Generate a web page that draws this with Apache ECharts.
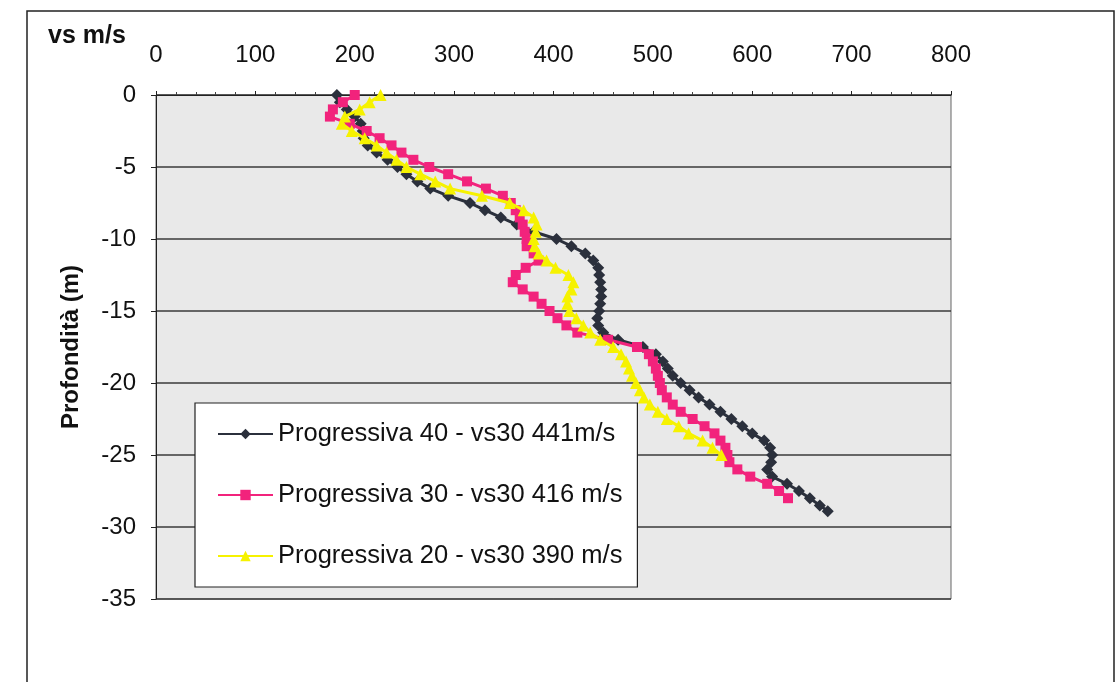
<!DOCTYPE html>
<html>
<head>
<meta charset="utf-8">
<script src="https://cdn.jsdelivr.net/npm/echarts@6/dist/echarts.min.js"></script>
<style>
html,body{margin:0;padding:0;background:#fff;}
#chart{width:1120px;height:682px;}
</style>
</head>
<body>
<div id="chart"></div>
<script>
// Depth values (m) for each sample, 0.5 m step
const depth40 = [0,-0.5,-1,-1.5,-2,-2.5,-3,-3.5,-4,-4.5,-5,-5.5,-6,-6.5,-7,-7.5,-8,-8.5,-9,-9.5,-10,-10.5,-11,-11.5,-12,-12.5,-13,-13.5,-14,-14.5,-15,-15.5,-16,-16.5,-17,-17.5,-18,-18.5,-19,-19.5,-20,-20.5,-21,-21.5,-22,-22.5,-23,-23.5,-24,-24.5,-25,-25.5,-26,-26.5,-27,-27.5,-28,-28.5,-28.9];
const vs40 = [182,185,192,200,206,208,209,213,222,233,243,252,263,276,294,316,331,347,363,380,403,418,432,440,445,446,447,448,448,447,446,444,445,450,465,490,503,510,515,520,528,537,546,557,568,579,590,600,612,618,620,619,615,620,635,647,658,668,676];

const depth30 = [0,-0.5,-1,-1.5,-2,-2.5,-3,-3.5,-4,-4.5,-5,-5.5,-6,-6.5,-7,-7.5,-8,-8.5,-9,-9.5,-10,-10.5,-11,-11.5,-12,-12.5,-13,-13.5,-14,-14.5,-15,-15.5,-16,-16.5,-17,-17.5,-18,-18.5,-19,-19.5,-20,-20.5,-21,-21.5,-22,-22.5,-23,-23.5,-24,-24.5,-25,-25.5,-26,-26.5,-27,-27.5,-28];
const vs30 = [200,188,178,175,195,212,225,237,247,259,275,294,313,332,349,357,362,366,369,371,373,373,380,385,372,362,359,369,380,388,396,404,413,424,455,484,496,500,503,505,507,509,514,520,528,540,552,562,568,573,575,577,585,598,615,627,636];

const depth20 = [0,-0.5,-1,-1.5,-2,-2.5,-3,-3.5,-4,-4.5,-5,-5.5,-6,-6.5,-7,-7.5,-8,-8.5,-9,-9.5,-10,-10.5,-11,-11.5,-12,-12.5,-13,-13.5,-14,-14.5,-15,-15.5,-16,-16.5,-17,-17.5,-18,-18.5,-19,-19.5,-20,-20.5,-21,-21.5,-22,-22.5,-23,-23.5,-24,-24.5,-25];
const vs20 = [226,215,205,190,187,197,210,222,232,242,252,266,281,296,328,356,370,380,383,382,380,381,385,393,402,415,420,418,414,414,416,423,430,437,447,460,468,473,476,479,483,487,491,497,505,514,526,536,550,560,569];

const seriesNames = ['Progressiva 40 - vs30 441m/s','Progressiva 30 - vs30 416 m/s','Progressiva 20 - vs30 390 m/s'];
const xTicks = {min:0, max:800, interval:100};
const yTicks = {min:-35, max:0, interval:5};

function pairs(vs, ds){ return vs.map((v,i)=>[v, ds[i]]); }

const chart = echarts.init(document.getElementById('chart'));
const FONT = '"Liberation Sans", Arial, sans-serif';
chart.setOption({
  animation:false,
  backgroundColor:'#fff',
  textStyle:{fontFamily:FONT},
  graphic:[
    {type:'rect', shape:{x:27,y:11,width:1087,height:700}, style:{fill:'none', stroke:'#222', lineWidth:1.5}, z:-1},
    {type:'text', left:48, top:24, style:{text:'vs m/s', font:'bold 25px '+FONT, fill:'#111'}}
  ],
  grid:{left:156, top:95, width:795, height:504, show:true, backgroundColor:'#e9e9e9', borderColor:'#666', borderWidth:1},
  legend:{
    left:195, top:403, orient:'vertical',
    backgroundColor:'#fff', borderColor:'#222', borderWidth:1.2,
    padding:[18,15,18,22], itemGap:35, itemWidth:55, itemHeight:13,
    textStyle:{fontSize:25.5, color:'#111', fontFamily:FONT},
    data:seriesNames
  },
  xAxis:{
    type:'value', position:'top', min:xTicks.min, max:xTicks.max, interval:xTicks.interval,
    axisLine:{show:true, lineStyle:{color:'#222', width:1}},
    axisTick:{show:true, length:4, lineStyle:{color:'#222'}},
    minorTick:{show:true, splitNumber:5, length:3, lineStyle:{color:'#444'}},
    splitLine:{show:false},
    axisLabel:{fontSize:24, color:'#111', margin:28, fontFamily:FONT}
  },
  yAxis:{
    type:'value', min:yTicks.min, max:yTicks.max, interval:yTicks.interval,
    name:'Profondità (m)', nameLocation:'middle', nameGap:73,
    nameTextStyle:{fontSize:24, fontWeight:'bold', color:'#111', fontFamily:FONT},
    axisLine:{show:true, lineStyle:{color:'#222', width:1}},
    axisTick:{show:true, length:5, lineStyle:{color:'#222'}},
    splitLine:{show:true, lineStyle:{color:'#3a3a3a', width:1.5}},
    axisLabel:{fontSize:24, color:'#111', margin:20, fontFamily:FONT}
  },
  series:[
    {name:seriesNames[0], type:'line', data:pairs(vs40, depth40), symbol:'diamond', symbolSize:12,
     itemStyle:{color:'#2b303c'}, lineStyle:{color:'#2b303c', width:3}, z:3},
    {name:seriesNames[1], type:'line', data:pairs(vs30, depth30), symbol:'rect', symbolSize:10,
     itemStyle:{color:'#f2237c'}, lineStyle:{color:'#f2237c', width:3}, z:4},
    {name:seriesNames[2], type:'line', data:pairs(vs20, depth20), symbol:'triangle', symbolSize:12,
     itemStyle:{color:'#f6f200'}, lineStyle:{color:'#f6f200', width:3}, z:5}
  ]
});
</script>
</body>
</html>
